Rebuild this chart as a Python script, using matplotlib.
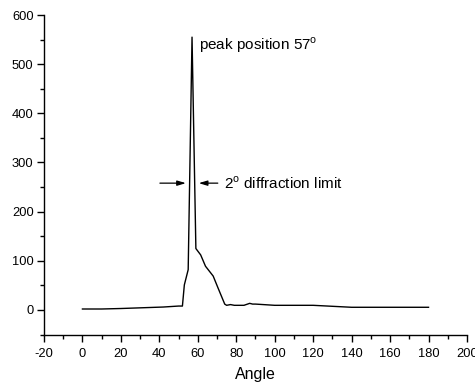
import matplotlib
matplotlib.use("Agg")
import matplotlib.pyplot as plt
from matplotlib.ticker import MultipleLocator

plt.rcParams['font.family'] = ['Liberation Sans', 'DejaVu Sans']
plt.rcParams['mathtext.fontset'] = 'custom'
plt.rcParams['mathtext.rm'] = 'Liberation Sans'
plt.rcParams['axes.unicode_minus'] = False

angle = [0, 10, 20, 42, 50, 52, 53, 55, 57, 59, 61.5, 64, 68, 70.5, 74, 75, 77, 79, 84, 87, 88.5, 90, 100, 120, 140, 160, 180]
intensity = [2, 2, 3, 6, 8, 8, 51, 82, 555, 125, 112, 89, 69, 45, 12, 9.5, 11, 9.5, 9.5, 13.5, 12, 12, 9.5, 9.5, 5.5, 5.5, 5.5]

xlabel = "Angle"
peak_label = r"peak position 57$^{\rm o}$"
limit_label = r"2$^{\rm o}$ diffraction limit"

fig = plt.figure(figsize=(4.75, 3.85), dpi=100)
ax = fig.add_axes([0.0926, 0.131, 0.8905, 0.830])
ax.plot(angle, intensity, color='black', lw=1.0)

ax.set_xlim(-20, 200)
ax.set_ylim(-50, 600)
ax.xaxis.set_major_locator(MultipleLocator(20))
ax.xaxis.set_minor_locator(MultipleLocator(10))
ax.yaxis.set_major_locator(MultipleLocator(100))
ax.yaxis.set_minor_locator(MultipleLocator(50))
ax.set_yticks([0, 100, 200, 300, 400, 500, 600])
ax.spines['top'].set_visible(False)
ax.spines['right'].set_visible(False)
for s in ('left', 'bottom'):
    ax.spines[s].set_linewidth(1.0)
ax.tick_params(which='major', direction='out', length=5, width=1.0, labelsize=9.3, pad=2.5)
ax.tick_params(axis='x', which='major', pad=4.5)
ax.tick_params(which='minor', direction='out', length=3, width=1.0)
ax.set_xlabel(xlabel, fontsize=11.5, labelpad=5.5)

ax.text(60.5, 539, peak_label, fontsize=11, va='center', ha='left')
ax.annotate('', xy=(53.8, 258), xytext=(40.3, 258),
            arrowprops=dict(arrowstyle='-|>,head_length=0.5,head_width=0.15', color='black', lw=0.9, shrinkA=0, shrinkB=0))
ax.annotate('', xy=(60.5, 258), xytext=(70.4, 258),
            arrowprops=dict(arrowstyle='-|>,head_length=0.5,head_width=0.15', color='black', lw=0.9, shrinkA=0, shrinkB=0))
ax.text(73.5, 258, limit_label, fontsize=11, va='center', ha='left')

fig.savefig("out.png", dpi=100)
